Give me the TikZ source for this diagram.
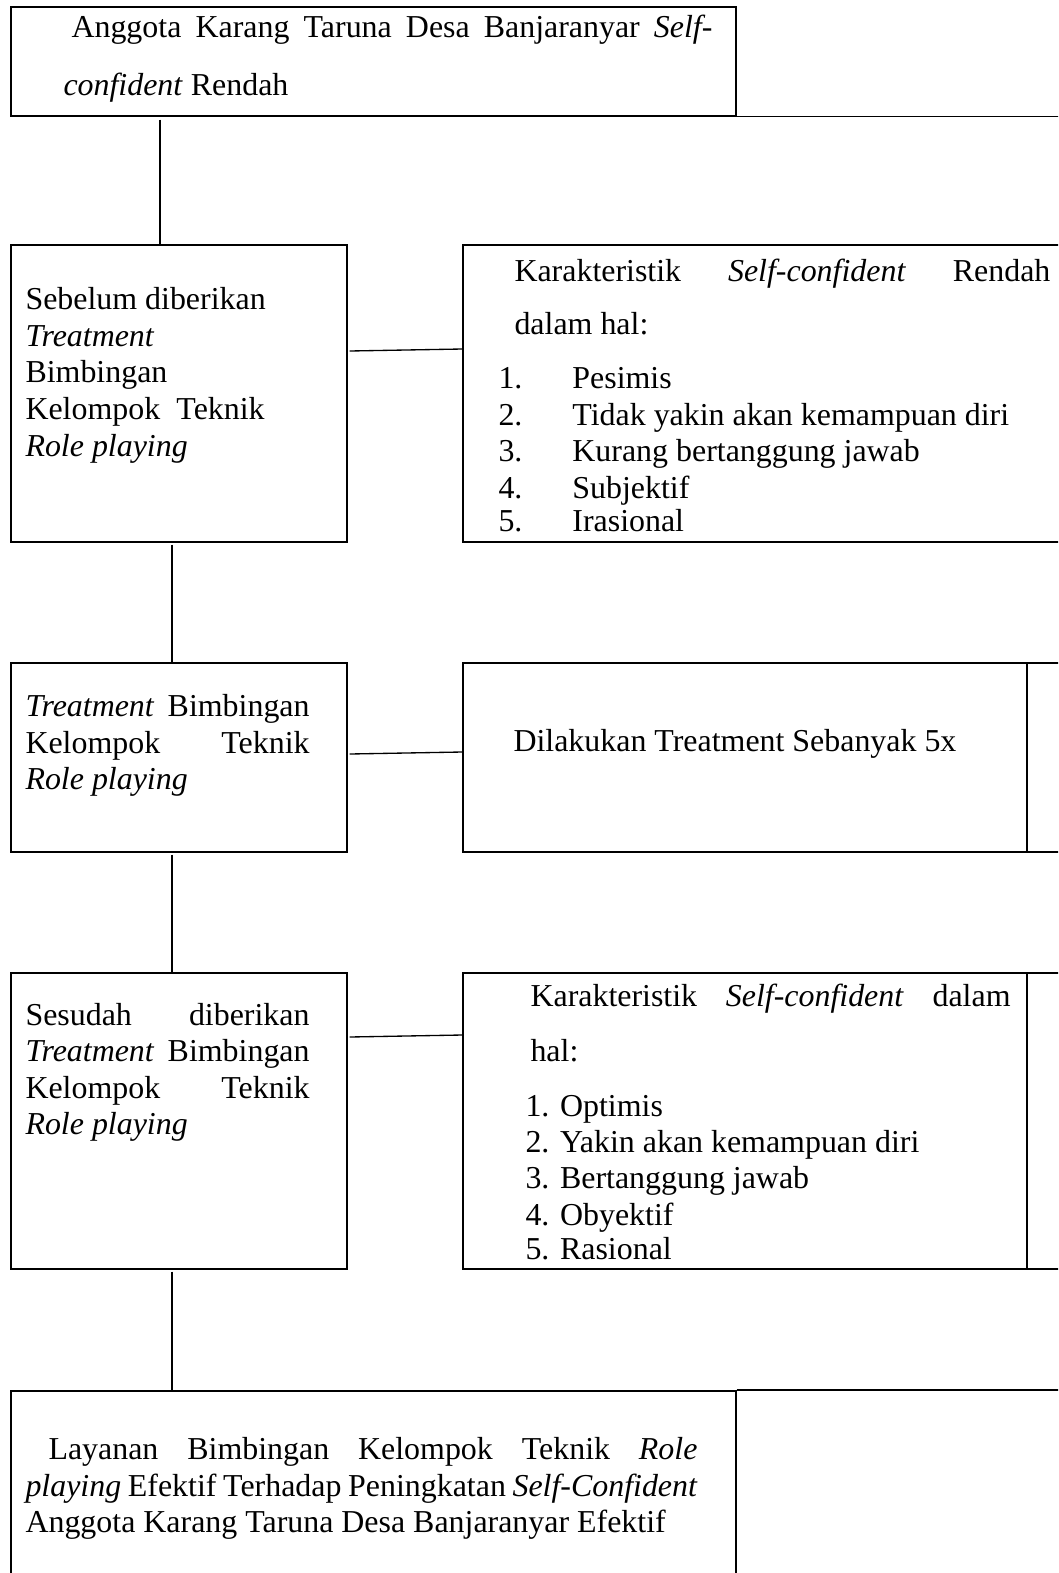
\documentclass[tikz,border=0pt]{standalone}
\usepackage{fontspec}
\setmainfont{Liberation Serif}
\usetikzlibrary{calc}
\newcommand\jline[2]{\makebox[#1][s]{#2}}
\begin{document}
\begin{tikzpicture}[x=0.376pt, y=-0.376pt,
    box/.style 2 args={draw, line width=0.6pt, inner sep=0, anchor=north west,
        minimum width=#1*0.376pt, minimum height=#2*0.376pt},
    txt/.style={anchor=base west, inner sep=0, font=\fontsize{12pt}{13.8pt}\selectfont},
    link/.style={line width=0.5pt}]
\useasboundingbox (0,0) rectangle (1058,1573);
\clip (0,0) rectangle (1058,1573);

% boxes
\node[box={725}{109}] (awal) at (10,6) {};
\node[box={336}{297}] (sebelum) at (10,244) {};
\node[box={610}{297}] (ciri) at (462,244) {};
\node[box={336}{189}] (treat) at (10,662) {};
\node[box={610}{189}] (kali) at (462,662) {};
\node[box={336}{296}] (sesudah) at (10,972) {};
\node[box={610}{296}] (ciribaru) at (462,972) {};
\node[box={725}{200}] (hasil) at (10,1390) {};

% loose lines of the cut boxes
\draw[line width=0.6pt] (awal.south east) -- ++(330,0);
\draw[line width=0.6pt] ($(kali.north west)+(565,0)$) -- ($(kali.south west)+(565,0)$);
\draw[line width=0.6pt] ($(ciribaru.north west)+(565,0)$) -- ($(ciribaru.south west)+(565,0)$);
\draw[line width=0.6pt] (hasil.north east) -- ++(330,0);

% texts
\node[txt] (awal1) at (71,37) {\jline{241pt}{Anggota Karang Taruna Desa Banjaranyar \textit{Self-}}};
\node[txt] (awal2) at (63,95) {\textit{confident} Rendah};

\node[txt] (seb1) at (25,309) {Sebelum diberikan};
\node[txt] (seb2) at (25,346) {\textit{Treatment}};
\node[txt] (seb3) at (25,382) {Bimbingan};
\node[txt] (seb4) at (25,419) {\jline{89.9pt}{Kelompok Teknik}};
\node[txt] (seb5) at (25,456) {\textit{Role playing}};

\node[txt] (ciri0) at (514,281) {\jline{201.5pt}{Karakteristik \textit{Self-confident} Rendah}};
\node[txt] (ciri00) at (514,334) {dalam hal:};
\node[txt] (ciri1) at (498,388) {\makebox[27.8pt][l]{1.}Pesimis};
\node[txt] (ciri2) at (498,425) {\makebox[27.8pt][l]{2.}Tidak yakin akan kemampuan diri};
\node[txt] (ciri3) at (498,461) {\makebox[27.8pt][l]{3.}Kurang bertanggung jawab};
\node[txt] (ciri4) at (498,498) {\makebox[27.8pt][l]{4.}Subjektif};
\node[txt] (ciri5) at (498,531) {\makebox[27.8pt][l]{5.}Irasional};

\node[txt] (tr1) at (25,716) {\jline{106.8pt}{\textit{Treatment} Bimbingan}};
\node[txt] (tr2) at (25,753) {\jline{106.8pt}{Kelompok Teknik}};
\node[txt] (tr3) at (25,789) {\textit{Role playing}};
\node[txt] (kali1) at (513,751) {Dilakukan Treatment Sebanyak 5x};

\node[txt] (ses1) at (25,1025) {\jline{106.8pt}{Sesudah diberikan}};
\node[txt] (ses2) at (25,1061) {\jline{106.8pt}{\textit{Treatment} Bimbingan}};
\node[txt] (ses3) at (25,1098) {\jline{106.8pt}{Kelompok Teknik}};
\node[txt] (ses4) at (25,1134) {\textit{Role playing}};

\node[txt] (cb0) at (530,1006) {\jline{180.5pt}{Karakteristik \textit{Self-confident} dalam}};
\node[txt] (cb00) at (530,1061) {hal:};
\node[txt] (cb1) at (525,1116) {1. Optimis};
\node[txt] (cb2) at (525,1152) {2. Yakin akan kemampuan diri};
\node[txt] (cb3) at (525,1188) {3. Bertanggung jawab};
\node[txt] (cb4) at (525,1225) {4. Obyektif};
\node[txt] (cb5) at (525,1259) {5. Rasional};

\node[txt] (has1) at (48,1459) {\jline{244pt}{Layanan Bimbingan Kelompok Teknik \textit{Role}}};
\node[txt] (has2) at (25,1496) {\jline{252.7pt}{\textit{playing} Efektif Terhadap Peningkatan \textit{Self-Confident}}};
\node[txt] (has3) at (25,1532) {Anggota Karang Taruna Desa Banjaranyar Efektif};

% connectors
\draw[link] ($(awal.south west)+(150,3)$) -- ($(sebelum.north west)+(150,0)$);
\draw[link] ($(sebelum.north east)+(2,107)$) -- ($(ciri.north west)+(0,105)$);
\draw[link] ($(sebelum.south west)+(162,2)$) -- ($(treat.north west)+(162,0)$);
\draw[link] ($(treat.north east)+(2,92)$) -- ($(kali.north west)+(0,90)$);
\draw[link] ($(treat.south west)+(162,2)$) -- ($(sesudah.north west)+(162,0)$);
\draw[link] ($(sesudah.north east)+(2,65)$) -- ($(ciribaru.north west)+(0,63)$);
\draw[link] ($(sesudah.south west)+(162,2)$) -- ($(hasil.north west)+(162,0)$);
\end{tikzpicture}
\end{document}
